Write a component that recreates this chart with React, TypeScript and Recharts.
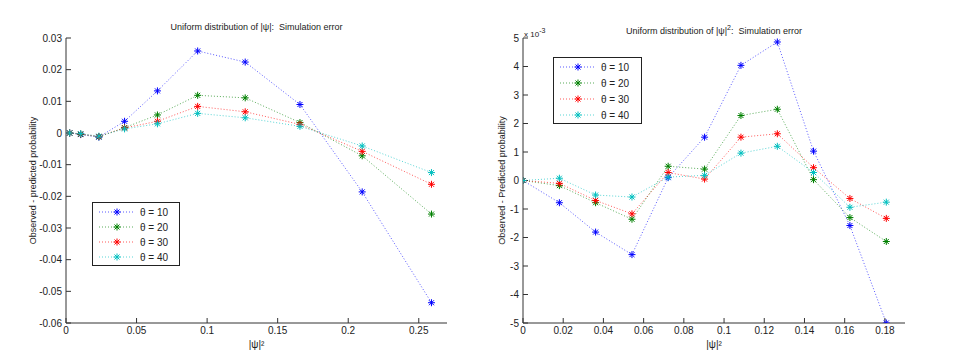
import { LineChart, Line, XAxis, YAxis, Legend } from 'recharts';

// left panel: uniform |psi|
const leftX = [0.0026, 0.0104, 0.0233, 0.0415, 0.0648, 0.0933, 0.127, 0.1658, 0.2099, 0.259];
const leftT10 = [0, -0.0005, -0.0013, 0.0037, 0.0133, 0.0259, 0.0224, 0.009, -0.0186, -0.0536];
const leftT20 = [0, -0.0004, -0.0012, 0.0017, 0.0057, 0.0119, 0.0111, 0.0033, -0.0072, -0.0256];
const leftT30 = [0, -0.0003, -0.0011, 0.0016, 0.0037, 0.0084, 0.0067, 0.0027, -0.0058, -0.0162];
const leftT40 = [0, -0.0002, -0.001, 0.0013, 0.0029, 0.0062, 0.0048, 0.0021, -0.0041, -0.0125];
const leftXTicks = [0, 0.05, 0.1, 0.15, 0.2, 0.25];
const leftYTicks = [-0.06, -0.05, -0.04, -0.03, -0.02, -0.01, 0, 0.01, 0.02, 0.03];

// right panel: uniform |psi|^2 (values in units of 1e-3)
const rightX = [0, 0.0181, 0.0361, 0.0542, 0.0722, 0.0903, 0.1084, 0.1265, 0.1445, 0.1626, 0.1807];
const rightT10 = [0, -0.78, -1.81, -2.6, 0.1, 1.52, 4.04, 4.86, 1.03, -1.58, -5.0];
const rightT20 = [0, -0.18, -0.78, -1.36, 0.5, 0.4, 2.28, 2.5, 0.03, -1.3, -2.14];
const rightT30 = [0, -0.1, -0.7, -1.17, 0.28, 0.05, 1.52, 1.64, 0.45, -0.63, -1.33];
const rightT40 = [0, 0.08, -0.51, -0.58, 0.12, 0.18, 0.96, 1.2, 0.28, -0.94, -0.76];
const rightXTicks = [0, 0.02, 0.04, 0.06, 0.08, 0.1, 0.12, 0.14, 0.16, 0.18];
const rightYTicks = [-5, -4, -3, -2, -1, 0, 1, 2, 3, 4, 5];

const seriesNames = ['θ = 10', 'θ = 20', 'θ = 30', 'θ = 40'];
const seriesColors = ['#0000ff', '#008000', '#ff0000', '#00bfbf'];

const toRows = (xs: number[], ys: number[][]) =>
    xs.map((x, i) => ({ x, s0: ys[0][i], s1: ys[1][i], s2: ys[2][i], s3: ys[3][i] }));

const leftRows = toRows(leftX, [leftT10, leftT20, leftT30, leftT40]);
const rightRows = toRows(rightX, [rightT10, rightT20, rightT30, rightT40]);

const fmt = (v: number) => String(Number(v.toFixed(2)));
const AXIS = '#333';
const FONT = '"Liberation Sans", Arial, sans-serif';

const Star = ({ cx, cy, color }: { cx: number; cy: number; color: string }) => {
    const r = 3.5;
    const d = 2.5;
    return (
        <g stroke={color} strokeWidth={1}>
            <line x1={cx - r} y1={cy} x2={cx + r} y2={cy} />
            <line x1={cx} y1={cy - r} x2={cx} y2={cy + r} />
            <line x1={cx - d} y1={cy - d} x2={cx + d} y2={cy + d} />
            <line x1={cx - d} y1={cy + d} x2={cx + d} y2={cy - d} />
        </g>
    );
};

const YTitle = ({ viewBox, text, shift }: any) => {
    const x = viewBox.x + shift;
    const y = viewBox.y + viewBox.height / 2;
    return (
        <text x={x} y={y} transform={`rotate(-90 ${x} ${y})`} textAnchor="middle" dominantBaseline="central" fontSize={9} fill="#222">
            {text}
        </text>
    );
};

const XTitle = ({ viewBox }: any) => {
    const x = viewBox.x + viewBox.width / 2;
    const y = viewBox.y + 21;
    return (
        <text x={x} y={y} textAnchor="middle" dominantBaseline="central" fontSize={10} fill="#222">
            |ψ|²
        </text>
    );
};

const LegendBox = ({ payload, w, h, gap }: any) => (
    <svg width={w} height={h} style={{ display: 'block' }}>
        <rect x={0.5} y={0.5} width={w - 1} height={h - 1} fill="#fff" stroke="#222" />
        {(payload || []).map((p: any, i: number) => {
            const y = 10 + i * gap;
            return (
                <g key={p.value}>
                    <line x1={7} x2={43} y1={y} y2={y} stroke={p.color} strokeOpacity={0.65} strokeDasharray="1 2" />
                    <Star cx={25} cy={y} color={p.color} />
                    <text x={48} y={y} dy="0.35em" fontSize={10} fill="#222">
                        {p.value}
                    </text>
                </g>
            );
        })}
    </svg>
);

interface PanelProps {
    rows: any[];
    xDomain: [number, number];
    yDomain: [number, number];
    xTicks: number[];
    yTicks: number[];
    yAxisWidth: number;
    marginRight: number;
    yLabel: string;
    yLabelShift: number;
    legendPos: { left: number; top: number; w: number; h: number; gap: number };
}

const Panel = (p: PanelProps) => (
    <LineChart width={480} height={360} data={p.rows} margin={{ top: 38, right: p.marginRight, bottom: 0, left: 0 }}>
        <XAxis
            dataKey="x"
            type="number"
            domain={p.xDomain}
            ticks={p.xTicks}
            tickFormatter={fmt}
            height={37}
            tickSize={-5}
            tickMargin={9}
            stroke={AXIS}
            tickLine={{ stroke: AXIS }}
            tick={{ fill: '#222', fontSize: 10 }}
            allowDataOverflow
            label={<XTitle />}
        />
        <XAxis
            xAxisId="top"
            orientation="top"
            type="number"
            domain={p.xDomain}
            ticks={p.xTicks}
            tickFormatter={() => ''}
            height={0}
            tickSize={-5}
            stroke={AXIS}
            tickLine={{ stroke: AXIS }}
        />
        <YAxis
            type="number"
            domain={p.yDomain}
            ticks={p.yTicks}
            tickFormatter={fmt}
            width={p.yAxisWidth}
            tickSize={-5}
            tickMargin={9}
            stroke={AXIS}
            tickLine={{ stroke: AXIS }}
            tick={{ fill: '#222', fontSize: 10 }}
            allowDataOverflow
            label={<YTitle text={p.yLabel} shift={p.yLabelShift} />}
        />
        <YAxis
            yAxisId="right"
            orientation="right"
            type="number"
            domain={p.yDomain}
            ticks={p.yTicks}
            tickFormatter={() => ''}
            width={0}
            tickSize={-5}
            stroke={AXIS}
            tickLine={{ stroke: AXIS }}
        />
        {seriesNames.map((name, i) => (
            <Line
                key={name}
                dataKey={`s${i}`}
                name={name}
                type="linear"
                stroke={seriesColors[i]}
                strokeWidth={1}
                strokeOpacity={0.65}
                strokeDasharray="1 2"
                isAnimationActive={false}
                activeDot={false}
                dot={(d: any) => <Star key={`${name}-${d.index}`} cx={d.cx} cy={d.cy} color={seriesColors[i]} />}
            />
        ))}
        <Legend
            layout="horizontal"
            verticalAlign="middle"
            align="center"
            wrapperStyle={{ left: p.legendPos.left, top: p.legendPos.top, width: p.legendPos.w, height: p.legendPos.h }}
            content={(lp: any) => <LegendBox payload={lp.payload} w={p.legendPos.w} h={p.legendPos.h} gap={p.legendPos.gap} />}
        />
    </LineChart>
);

const titleStyle = (cx: number): React.CSSProperties => ({
    position: 'absolute',
    left: cx - 150,
    width: 300,
    top: 22,
    textAlign: 'center',
    fontSize: 9,
    lineHeight: '11px',
    color: '#222',
    whiteSpace: 'pre',
});

const App = () => (
    <div style={{ position: 'absolute', left: 0, top: 0, width: 960, height: 360, background: '#fff', fontFamily: FONT }}>
        <div style={{ position: 'absolute', left: 0, top: 0 }}>
            <Panel
                rows={leftRows}
                xDomain={[0, 0.27]}
                yDomain={[-0.06, 0.03]}
                xTicks={leftXTicks}
                yTicks={leftYTicks}
                yAxisWidth={66}
                marginRight={33}
                yLabel="Observed - predicted probability"
                yLabelShift={33}
                legendPos={{ left: 92, top: 202, w: 88, h: 64, gap: 15 }}
            />
        </div>
        <div style={{ position: 'absolute', left: 480, top: 0 }}>
            <Panel
                rows={rightRows}
                xDomain={[0, 0.19]}
                yDomain={[-5, 5]}
                xTicks={rightXTicks}
                yTicks={rightYTicks}
                yAxisWidth={43}
                marginRight={55}
                yLabel="Observed - Predicted probability"
                yLabelShift={22}
                legendPos={{ left: 73, top: 57, w: 89, h: 67, gap: 16 }}
            />
        </div>
        <div style={titleStyle(256.5)}>Uniform distribution of |ψ|:  Simulation error</div>
        <div style={titleStyle(714)}>
            Uniform distribution of |ψ|<sup style={{ fontSize: 7 }}>2</sup>:  Simulation error
        </div>
        <div style={{ position: 'absolute', left: 524, top: 26, fontSize: 8, color: '#222', lineHeight: '10px' }}>
            x 10<sup style={{ fontSize: 7 }}>-3</sup>
        </div>
    </div>
);

export default App;
